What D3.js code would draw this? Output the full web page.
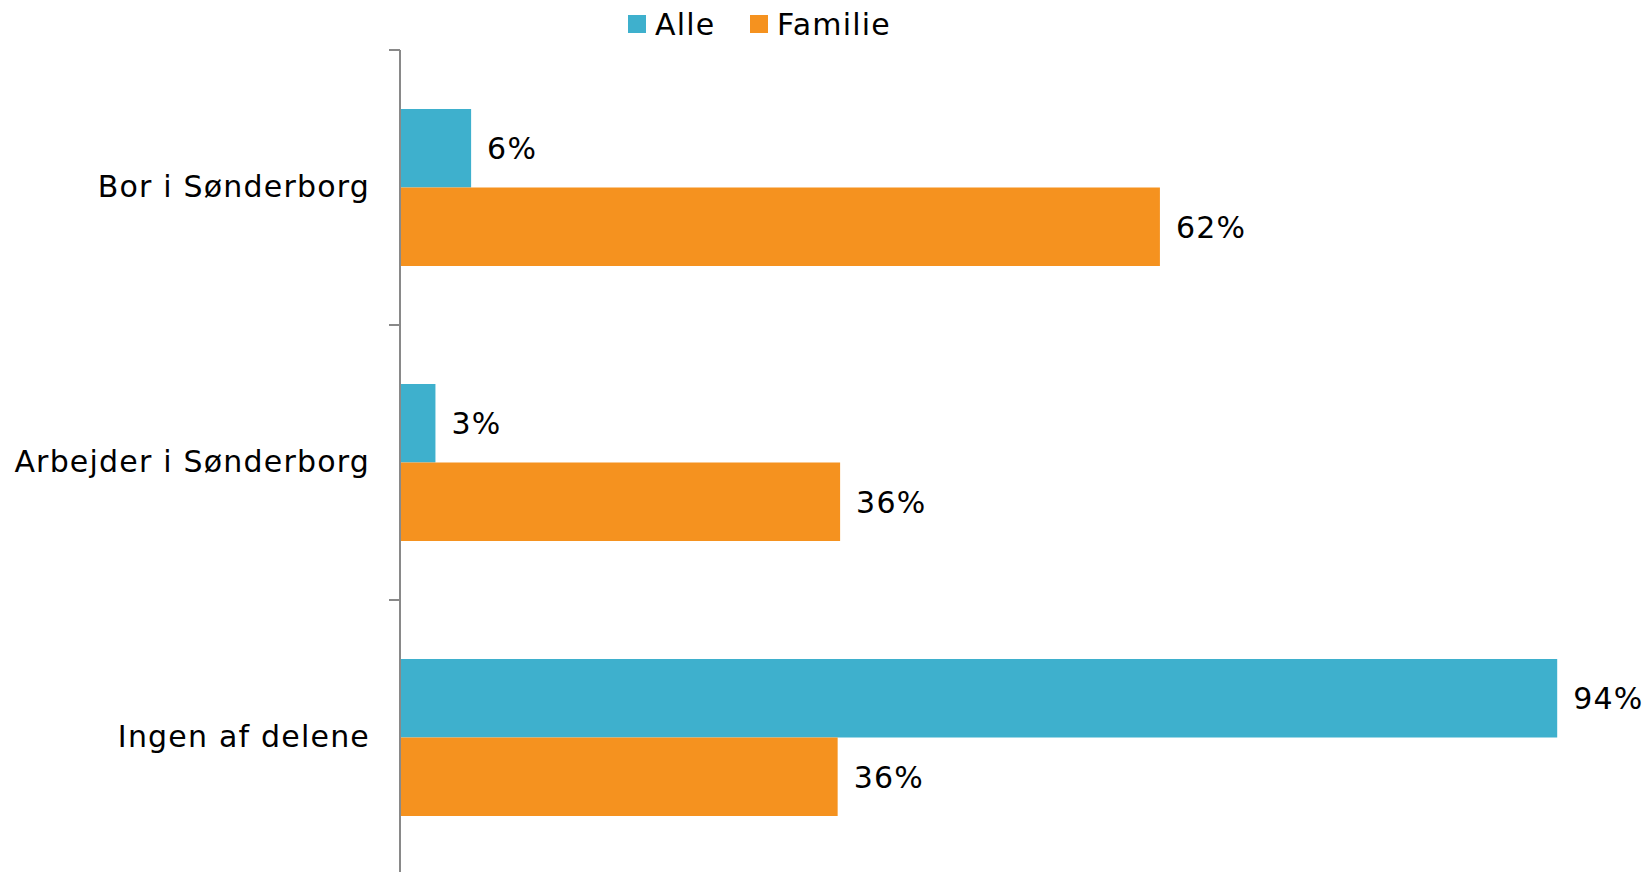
<!DOCTYPE html>
<html><head><meta charset="utf-8">
<script src="https://cdn.jsdelivr.net/npm/d3@7"></script>
<style>body{margin:0;background:#fff}svg{display:block}text{font-family:"DejaVu Sans",Verdana,sans-serif;fill:#000;letter-spacing:1.2px}</style>
</head><body>
<script>
const categories = ["Bor i Sønderborg", "Arbejder i Sønderborg", "Ingen af delene"];
const series = ["Alle", "Familie"];
const alle = [0.057, 0.028, 0.94];
const familie = [0.617, 0.357, 0.355];
const valueLabels = {Alle: ["6%", "3%", "94%"], Familie: ["62%", "36%", "36%"]};
const colors = {Alle: "#3EB0CD", Familie: "#F5921F"};

const W = 1649, H = 872;
const svg = d3.select("body").append("svg").attr("width", W).attr("height", H);

const x = d3.scaleLinear().domain([0, 1]).range([401, 1631]);
const y = d3.scaleBand().domain(categories).range([50, 875]).paddingInner(0).paddingOuter(0);
const inner = d3.scaleBand().domain(series).range([59, 216]);

const data = {Alle: alle, Familie: familie};

series.forEach(s => {
  const g = svg.append("g");
  g.selectAll("rect").data(categories).join("rect")
    .attr("x", x(0))
    .attr("y", c => y(c) + inner(s))
    .attr("width", (c, i) => x(data[s][i]) - x(0))
    .attr("height", inner.bandwidth())
    .attr("fill", colors[s]);
  g.selectAll("text").data(categories).join("text")
    .attr("x", (c, i) => x(data[s][i]) + 16)
    .attr("y", c => y(c) + inner(s) + inner.bandwidth() / 2)
    .attr("dy", "0.36em")
    .attr("font-size", 30)
    .text((c, i) => valueLabels[s][i]);
});

// y axis
const axis = d3.axisLeft(y).tickSize(0).tickPadding(30).tickSizeOuter(0);
const ag = svg.append("g").attr("transform", "translate(400,0)").call(axis);
ag.select(".domain").remove();
ag.selectAll("text").attr("font-size", 30).attr("font-family", "DejaVu Sans, Verdana, sans-serif").attr("fill", "#000");
svg.append("line").attr("x1", 400).attr("x2", 400).attr("y1", 50).attr("y2", H)
  .attr("stroke", "#898989").attr("stroke-width", 2);
// tick marks at band boundaries
svg.selectAll("line.tk").data(categories).join("line").attr("class", "tk")
  .attr("x1", 389).attr("x2", 400)
  .attr("y1", c => y(c)).attr("y2", c => y(c))
  .attr("stroke", "#898989").attr("stroke-width", 2);

// legend
const legX = [628, 750];
const lg = svg.selectAll("g.leg").data(series).join("g").attr("class", "leg")
  .attr("transform", (d, i) => `translate(${legX[i]},15)`);
lg.append("rect").attr("width", 18).attr("height", 18).attr("fill", d => colors[d]);
lg.append("text").attr("x", 27).attr("y", 9).attr("dy", "0.36em").attr("font-size", 30).text(d => d);
</script>
</body></html>
